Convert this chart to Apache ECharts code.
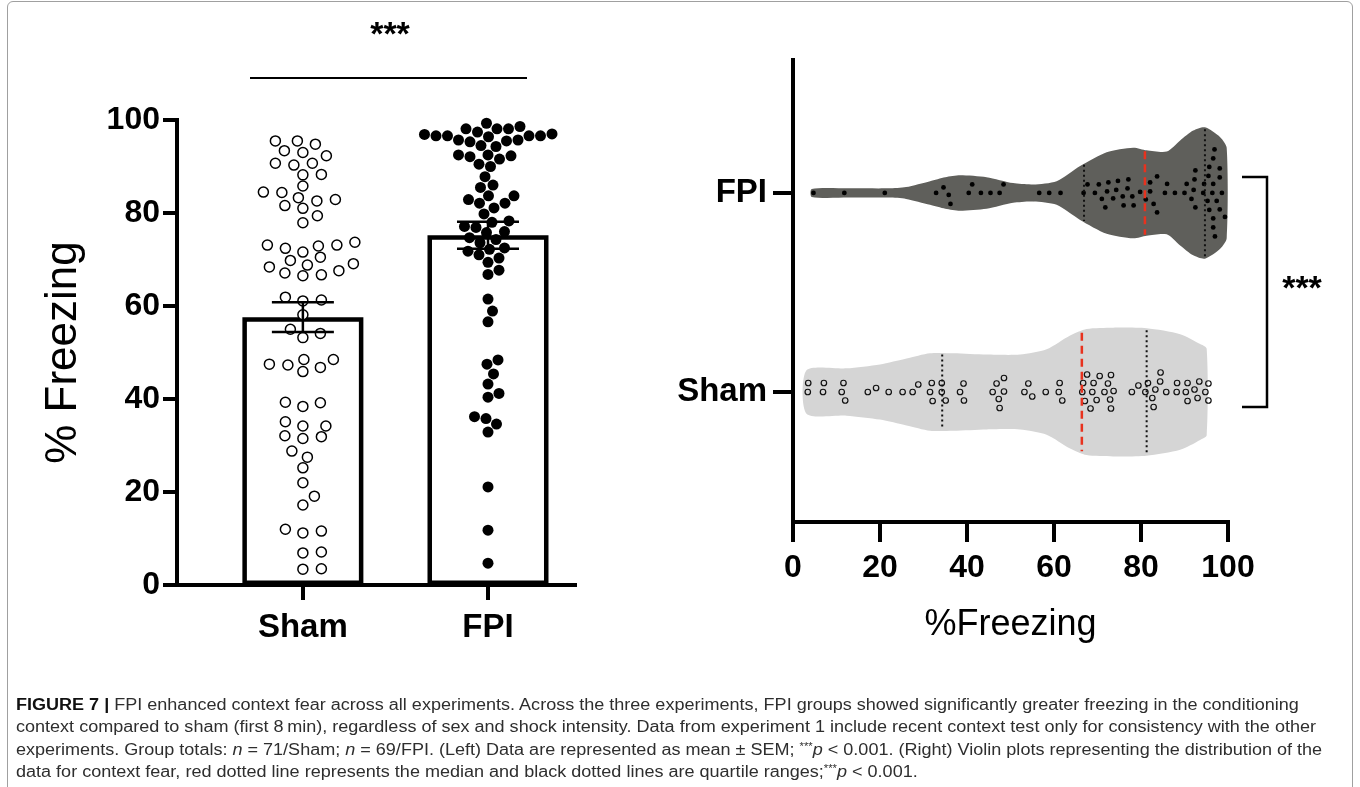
<!DOCTYPE html>
<html>
<head>
<meta charset="utf-8">
<script src="https://cdn.jsdelivr.net/npm/echarts@6/dist/echarts.min.js"></script>
<style>
html, body { margin: 0; padding: 0; background: #fff; }
#frame { position: absolute; left: 7px; top: 1px; width: 1344px; height: 800px; border: 1.5px solid #a0a0a0; border-radius: 6px; }
#main { position: absolute; left: 0; top: 0; width: 1360px; height: 787px; }
#caption { position: absolute; left: 16px; top: 694px; font-family: 'Liberation Sans', Arial, sans-serif;
  font-size: 16px; line-height: 22.4px; color: #2e2e2e; white-space: nowrap; transform-origin: 0 0; display: inline-block; }
#caption b { color: #111; }
#caption sup { font-size: 10px; vertical-align: 5px; line-height: 0; }
</style>
</head>
<body>
<div id="frame"></div>
<div id="main"></div>
<div id="caption">
<div><b>FIGURE 7 |</b> FPI enhanced context fear across all experiments. Across the three experiments, FPI groups showed significantly greater freezing in the conditioning</div>
<div>context compared to sham (first 8&#8201;min), regardless of sex and shock intensity. Data from experiment 1 include recent context test only for consistency with the other</div>
<div>experiments. Group totals: <i>n</i> = 71/Sham; <i>n</i> = 69/FPI. (Left) Data are represented as mean ± SEM; <sup>***</sup><i>p</i> &lt; 0.001. (Right) Violin plots representing the distribution of the</div>
<div>data for context fear, red dotted line represents the median and black dotted lines are quartile ranges;<sup>***</sup><i>p</i> &lt; 0.001.</div>
</div>
<script>
// groups
var categories = ['Sham', 'FPI'];

// % freezing per animal
var sham_values = [
    95.5, 95.5, 94.8, 93.4, 93.0, 92.3, 90.7, 90.7, 90.3, 88.3, 88.2,
    85.8, 84.5, 84.4, 83.3, 82.9, 82.6, 81.6, 81.0, 79.4, 77.9,
    73.7, 73.1, 73.1, 72.9, 72.4, 71.6, 70.5, 69.8, 69.1, 68.8, 68.4, 67.6, 67.1, 66.7, 66.5,
    61.9, 61.3, 61.1, 58.1, 55.0, 54.1, 53.2,
    48.5, 48.5, 47.5, 47.3, 46.8, 45.9,
    39.3, 39.2, 38.4,
    35.1, 34.2, 34.2, 32.1, 31.9, 31.5,
    28.8, 27.5, 25.2, 22.0, 19.1, 17.2,
    12.0, 11.6, 11.2, 7.1, 6.9, 3.5, 3.4
];
var fpi_values = [
    99.3, 98.6, 98.1, 98.1, 98.1, 97.4, 97.0, 96.9, 96.6, 96.6, 96.6, 96.6, 96.4, 95.7, 95.7, 95.5, 95.3, 94.5, 94.3,
    92.5, 92.5, 92.3, 92.1, 91.6, 90.5, 90.0,
    87.8, 86.0, 85.5, 83.7, 83.7, 82.9, 82.1, 82.1, 81.1,
    79.8, 78.3, 78.0, 77.1, 76.9, 76.0, 75.8, 74.7, 74.3, 73.6, 72.5, 72.2, 71.8, 71.0, 70.3, 69.4, 67.7, 66.8,
    61.5, 58.9, 56.6,
    48.4, 47.5, 45.4, 43.2, 41.2, 40.4, 36.2, 35.8, 34.6, 32.9, 21.1, 11.8, 4.7
];

// mean and SEM per group
var group_means = [57.6, 75.2];
var group_sems = [3.2, 2.9];

// axis ticks
var freezing_ticks = [0, 20, 40, 60, 80, 100];

// violin outlines: % freezing positions and relative width (1 = widest)
var sham_violin_x = [3.1, 12.3, 20.0, 26.1, 31.5, 36.9, 44.5, 52.2, 58.3, 63.7, 67.5, 73.6, 81.3, 89.0, 93.6, 95.1];
var sham_violin_w = [0.33, 0.36, 0.42, 0.51, 0.59, 0.59, 0.57, 0.57, 0.65, 0.86, 0.96, 0.98, 0.97, 0.88, 0.73, 0.66];
var fpi_violin_x = [4.3, 13.0, 22.0, 26.0, 31.5, 35.0, 38.4, 44.5, 50.6, 55.2, 60.6, 66.0, 72.1, 78.2, 81.3, 85.9, 89.0, 92.0, 94.7, 98.2, 99.7];
var fpi_violin_w = [0.06, 0.07, 0.07, 0.09, 0.18, 0.24, 0.27, 0.24, 0.15, 0.13, 0.18, 0.41, 0.62, 0.69, 0.65, 0.63, 0.80, 0.95, 1.0, 0.85, 0.69];

// quartiles: [Q1, median, Q3]
var sham_quartiles = [34.3, 66.4, 81.3];
var fpi_quartiles = [66.9, 80.9, 94.7];

var FONT = "'Liberation Sans', Arial, sans-serif";
var VIOLIN_HALF = 0.33;
var violin_x = [sham_violin_x, fpi_violin_x];
var violin_w = [sham_violin_w, fpi_violin_w];
var violin_colors = ['#d5d5d5', '#5f5f5b'];

var chart = echarts.init(document.getElementById('main'));

function axis_line() {
    return {show: true, lineStyle: {color: '#000', width: 4, cap: 'square'}};
}

function violin_width_at(g, v) {
    var xs = violin_x[g], ws = violin_w[g];
    for (var i = 0; i < xs.length - 1; i++) {
        if (v >= xs[i] && v <= xs[i + 1]) {
            var t = (v - xs[i]) / (xs[i + 1] - xs[i]);
            return ws[i] + t * (ws[i + 1] - ws[i]);
        }
    }
    return ws[ws.length - 1];
}

function render_error_bar(params, api) {
    var x = api.value(0), mean = api.value(1), sem = api.value(2);
    var top = api.coord([x, mean + sem]);
    var bottom = api.coord([x, mean - sem]);
    var half = 31;
    var style = {stroke: '#000', lineWidth: 2.5};
    return {type: 'group', children: [
        {type: 'line', shape: {x1: top[0], y1: top[1], x2: bottom[0], y2: bottom[1]}, style: style},
        {type: 'line', shape: {x1: top[0] - half, y1: top[1], x2: top[0] + half, y2: top[1]}, style: style},
        {type: 'line', shape: {x1: bottom[0] - half, y1: bottom[1], x2: bottom[0] + half, y2: bottom[1]}, style: style}
    ]};
}

function render_violin(params, api) {
    var g = api.value(0), c = g + 1;
    var xs = violin_x[g], ws = violin_w[g];
    var upper = [], lower = [];
    for (var i = 0; i < xs.length; i++) {
        upper.push(api.coord([xs[i], c + ws[i] * VIOLIN_HALF]));
        lower.push(api.coord([xs[i], c - ws[i] * VIOLIN_HALF]));
    }
    var pts = upper.concat(lower.reverse());
    return {type: 'polygon', shape: {points: pts, smooth: 0.25}, style: {fill: violin_colors[g]}};
}

function render_quartile(params, api) {
    var g = api.value(0), v = api.value(1), k = api.value(2), c = g + 1;
    var hw = violin_width_at(g, v) * VIOLIN_HALF * 0.97;
    var a = api.coord([v, c + hw]);
    var b = api.coord([v, c - hw]);
    var is_median = k === 1;
    return {type: 'line', shape: {x1: a[0], y1: a[1], x2: b[0], y2: b[1]},
        style: {stroke: is_median ? '#e8321e' : '#111', lineWidth: is_median ? 2.5 : 2,
            lineDash: is_median ? [8, 5] : [2, 3]}};
}

// simple beeswarm: offsets (px) across the value direction
function swarm(values, px_per_value, dx, dy) {
    var order = values.map(function (v, i) { return i; })
        .sort(function (a, b) { return values[a] - values[b]; });
    var placed = [];
    var offsets = new Array(values.length);
    order.forEach(function (i) {
        var p = values[i] * px_per_value;
        var best = 0;
        for (var step = 0; step < 800; step++) {
            var cand = (step % 2 ? 1 : -1) * Math.ceil(step / 2) * 0.5;
            var ok = placed.every(function (q) {
                var a = (cand - q.o) / dx, b = (p - q.p) / dy;
                return a * a + b * b >= 1;
            });
            if (ok) { best = cand; break; }
        }
        placed.push({o: best, p: p});
        offsets[i] = best;
    });
    return offsets;
}

var quartile_data = [];
[sham_quartiles, fpi_quartiles].forEach(function (qs, g) {
    qs.forEach(function (q, k) { quartile_data.push([g, q, k]); });
});

var option = {
    animation: false,
    grid: [
        {left: 177, top: 120, width: 398, height: 465},
        {left: 793, top: 60, width: 435, height: 462}
    ],
    xAxis: [
        {
            gridIndex: 0, type: 'value', min: 0.32, max: 2.47,
            axisLine: axis_line(), splitLine: {show: false},
            axisTick: {show: true, customValues: [1, 2], length: 15, lineStyle: {color: '#000', width: 4}},
            axisLabel: {show: true, customValues: [1, 2], margin: 26, color: '#000', fontFamily: FONT,
                fontWeight: 'bold', fontSize: 33, formatter: function (v) { return categories[v - 1]; }}
        },
        {
            gridIndex: 1, type: 'value', min: 0, max: 100, interval: 20,
            axisLine: axis_line(), splitLine: {show: false},
            axisTick: {show: true, length: 20, lineStyle: {color: '#000', width: 4}},
            axisLabel: {margin: 30, color: '#000', fontFamily: FONT, fontWeight: 'bold', fontSize: 32},
            name: '%Freezing', nameLocation: 'middle', nameGap: 85,
            nameTextStyle: {color: '#000', fontFamily: FONT, fontSize: 36}
        }
    ],
    yAxis: [
        {
            gridIndex: 0, type: 'value', min: freezing_ticks[0], max: freezing_ticks[freezing_ticks.length - 1], interval: 20,
            axisLine: axis_line(), splitLine: {show: false},
            axisTick: {show: true, length: 14, lineStyle: {color: '#000', width: 4}},
            axisLabel: {margin: 17, color: '#000', fontFamily: FONT, fontWeight: 'bold', fontSize: 32},
            name: '% Freezing', nameLocation: 'middle', nameGap: 91, nameRotate: 90,
            nameTextStyle: {color: '#000', fontFamily: FONT, fontSize: 44}
        },
        {
            gridIndex: 1, type: 'value', min: 0.347, max: 2.668,
            axisLine: axis_line(), splitLine: {show: false},
            axisTick: {show: true, customValues: [1, 2], length: 20, lineStyle: {color: '#000', width: 4}},
            axisLabel: {show: true, customValues: [1, 2], margin: 26, color: '#000', fontFamily: FONT,
                fontWeight: 'bold', fontSize: 33, formatter: function (v) { return categories[v - 1]; }}
        }
    ],
    graphic: [
        {type: 'line', shape: {x1: 250, y1: 78, x2: 527, y2: 78}, style: {stroke: '#000', lineWidth: 2}},
        {type: 'text', x: 390, y: 36, style: {text: '***', fill: '#000', font: 'bold 34px ' + FONT, textAlign: 'center', textVerticalAlign: 'middle'}},
        {type: 'polyline', shape: {points: [[1242, 177], [1267, 177], [1267, 407], [1242, 407]]}, style: {stroke: '#000', lineWidth: 2.5, fill: null}},
        {type: 'text', x: 1302, y: 290, style: {text: '***', fill: '#000', font: 'bold 34px ' + FONT, textAlign: 'center', textVerticalAlign: 'middle'}}
    ],
    series: [
        {
            type: 'bar', xAxisIndex: 0, yAxisIndex: 0, barWidth: 121, z: 1,
            itemStyle: {color: '#fff', borderColor: '#000', borderWidth: 4.5},
            data: categories.map(function (c, i) { return [i + 1, group_means[i]]; })
        },
        {id: 'sham_dots', type: 'scatter', xAxisIndex: 0, yAxisIndex: 0, z: 2, symbolSize: 10,
            itemStyle: {color: '#fff', borderColor: '#000', borderWidth: 1.5, opacity: 1}, data: []},
        {id: 'fpi_dots', type: 'scatter', xAxisIndex: 0, yAxisIndex: 0, z: 2, symbolSize: 11,
            itemStyle: {color: '#000', opacity: 1}, data: []},
        {
            type: 'custom', xAxisIndex: 0, yAxisIndex: 0, z: 3, renderItem: render_error_bar,
            data: categories.map(function (c, i) { return [i + 1, group_means[i], group_sems[i]]; })
        },
        {
            type: 'custom', xAxisIndex: 1, yAxisIndex: 1, z: 1, renderItem: render_violin,
            data: categories.map(function (c, i) { return [i, i + 1]; })
        },
        {id: 'sham_violin_dots', type: 'scatter', xAxisIndex: 1, yAxisIndex: 1, z: 2, symbolSize: 5.5,
            itemStyle: {color: 'rgba(0,0,0,0)', borderColor: '#111', borderWidth: 1.2, opacity: 1}, data: []},
        {id: 'fpi_violin_dots', type: 'scatter', xAxisIndex: 1, yAxisIndex: 1, z: 2, symbolSize: 4.8,
            itemStyle: {color: '#000', opacity: 1}, data: []},
        {
            type: 'custom', xAxisIndex: 1, yAxisIndex: 1, z: 3, renderItem: render_quartile,
            data: quartile_data
        }
    ]
};

chart.setOption(option);

// second pass: lay the dots out as swarms using the real axis scales
var a0 = chart.convertToPixel({gridIndex: 0}, [1, 0]);
var a1 = chart.convertToPixel({gridIndex: 0}, [2, 100]);
var left_px_x = a1[0] - a0[0];
var left_px_y = (a0[1] - a1[1]) / 100;
var b0 = chart.convertToPixel({gridIndex: 1}, [0, 1]);
var b1 = chart.convertToPixel({gridIndex: 1}, [100, 2]);
var right_px_x = (b1[0] - b0[0]) / 100;
var right_px_y = b0[1] - b1[1];

function left_points(values, g, dx, dy) {
    var off = swarm(values, left_px_y, dx, dy);
    return values.map(function (v, i) { return [g + 1 + off[i] / left_px_x, v]; });
}
function right_points(values, g) {
    var off = swarm(values, right_px_x, 9, 9);
    return values.map(function (v, i) { return [v, g + 1 + off[i] / right_px_y]; });
}

chart.setOption({series: [
    {id: 'sham_dots', data: left_points(sham_values, 0, 18.5, 11)},
    {id: 'fpi_dots', data: left_points(fpi_values, 1, 11.5, 11.5)},
    {id: 'sham_violin_dots', data: right_points(sham_values, 0)},
    {id: 'fpi_violin_dots', data: right_points(fpi_values, 1)}
]});

// caption: squeeze to the narrow face of the original
var cap = document.getElementById('caption');
var first = cap.children[0];
var w = first.scrollWidth;
cap.style.transform = 'scaleX(' + (1306 / w) + ')';
</script>
</body>
</html>
